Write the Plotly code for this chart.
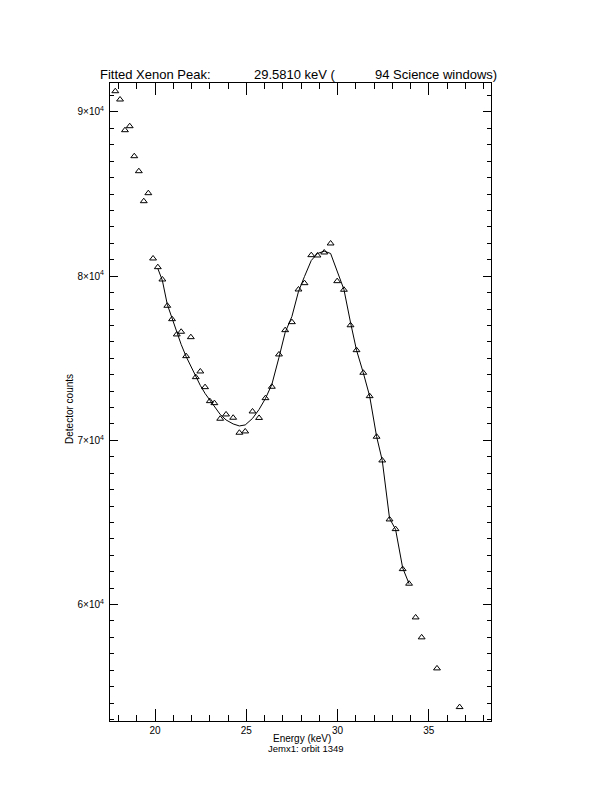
import plotly.graph_objects as go

# Data points (energy keV, detector counts)
energy = [17.82, 18.08, 18.35, 18.61, 18.86, 19.11, 19.38, 19.63, 19.89, 20.15,
          20.40, 20.67, 20.93, 21.19, 21.43, 21.70, 21.96, 22.23, 22.48, 22.74,
          23.00, 23.25, 23.57, 23.89, 24.28, 24.62, 24.94, 25.34, 25.70, 26.05,
          26.40, 26.79, 27.13, 27.50, 27.86, 28.19, 28.56, 28.90, 29.27, 29.62,
          29.98, 30.35, 30.71, 31.04, 31.41, 31.76, 32.14, 32.45, 32.85, 33.18,
          33.57, 33.92, 34.28, 34.61, 35.45, 36.69]
counts = [91266, 90761, 88891, 89135, 87308, 86394, 84567, 85055, 81078, 80548,
          79799, 78197, 77381, 76450, 76614, 75128, 76285, 73849, 74196, 73240,
          72388, 72266, 71316, 71578, 71377, 70463, 70543, 71760, 71365, 72570,
          73264, 75232, 76711, 77199, 79190, 79574, 81279, 81261, 81443, 81991,
          79696, 79172, 77010, 75493, 74117, 72692, 70220, 68776, 65183, 64593,
          62157, 61268, 59215, 58000, 56109, 53753]

# Fitted curve values
fit_energy = [20.15, 20.40, 20.67, 20.93, 21.19, 21.43, 21.70, 21.96, 22.23, 22.48,
              22.74, 23.00, 23.25, 23.57, 23.89, 24.28, 24.62, 24.94, 25.34, 25.70,
              26.05, 26.40, 26.79, 27.13, 27.50, 27.86, 28.19, 28.56, 28.90, 29.27,
              29.62, 29.98, 30.35, 30.71, 31.04, 31.41, 31.76, 32.14, 32.45, 32.85,
              33.18, 33.57, 33.92]
fit_counts = [80469, 79738, 78277, 77424, 76571, 75841, 75110, 74501, 73892, 73344,
              72857, 72431, 72066, 71578, 71243, 70999, 70877, 70938, 71334, 71882,
              72552, 73405, 75049, 76571, 77546, 79068, 79982, 80956, 81382, 81523,
              81382, 80347, 79190, 77181, 75493, 74117, 72692, 70238, 68776, 65244,
              64574, 62229, 61267]

x_tickvals = [20, 25, 30, 35]
x_ticktext = ["20", "25", "30", "35"]
y_tickvals = [60000, 70000, 80000, 90000]
y_ticktext = ["6×10<sup>4</sup>", "7×10<sup>4</sup>", "8×10<sup>4</sup>", "9×10<sup>4</sup>"]

title_parts = ["Fitted Xenon Peak:", "29.5810 keV (", "94 Science windows)"]
x_title = "Energy (keV)"
x_subtitle = "Jemx1: orbit 1349"
y_title = "Detector counts"

W, H = 612, 792
OFF = 8  # page body offset
L, R, T, B = 110 - OFF, 490.7 - OFF, 83.3 - OFF, 720.7 - OFF
FONT = "Liberation Sans"


def px(x):
    return (x - OFF - L) / (R - L)


def py(y):
    return (B - (y - OFF)) / (B - T)


fig = go.Figure()
fig.add_trace(go.Scatter(x=fit_energy, y=fit_counts, mode="lines",
                         line=dict(color="black", width=1), showlegend=False))
fig.add_trace(go.Scatter(x=energy, y=counts, mode="markers",
                         marker=dict(symbol="triangle-up-open", size=6,
                                     color="black", line=dict(width=1)),
                         showlegend=False))

fig.update_layout(
    width=W, height=H,
    margin=dict(l=L, r=W - R, t=T, b=H - B, pad=0),
    paper_bgcolor="white", plot_bgcolor="white",
    font=dict(family=FONT, color="black", size=10),
    xaxis=dict(range=[17.53, 38.41], tickvals=x_tickvals, ticktext=x_ticktext,
               ticks="inside", ticklen=12, tickwidth=1, tickcolor="black",
               showline=True, linecolor="black", linewidth=1, mirror="allticks",
               showgrid=False, zeroline=False,
               minor=dict(dtick=1, tick0=0, ticks="inside", ticklen=6,
                          tickcolor="black", showgrid=False),
               tickfont=dict(size=10)),
    yaxis=dict(range=[52905, 91766], tickvals=y_tickvals, ticktext=y_ticktext,
               ticks="inside", ticklen=8, tickwidth=1, tickcolor="black",
               showline=True, linecolor="black", linewidth=1, mirror="allticks",
               showgrid=False, zeroline=False, ticklabelstandoff=3,
               minor=dict(dtick=1000, tick0=0, ticks="inside", ticklen=4,
                          tickcolor="black", showgrid=False),
               tickfont=dict(size=10)),
)

ann = []
for text, x0 in zip(title_parts, [98, 252, 373]):
    ann.append(dict(text=text, x=px(x0), y=py(75), xref="paper", yref="paper",
                    xanchor="left", yanchor="middle", showarrow=False,
                    font=dict(size=13)))
ann.append(dict(text=x_title, x=px(302), y=py(738), xref="paper", yref="paper",
                xanchor="center", yanchor="middle", showarrow=False, font=dict(size=10)))
ann.append(dict(text=x_subtitle, x=px(306), y=py(748), xref="paper", yref="paper",
                xanchor="center", yanchor="middle", showarrow=False, font=dict(size=9.5)))
ann.append(dict(text=y_title, x=px(69), y=py(409), xref="paper", yref="paper",
                xanchor="center", yanchor="middle", showarrow=False, textangle=-90,
                font=dict(size=10)))
fig.update_layout(annotations=ann)

fig.write_html("out.html")
